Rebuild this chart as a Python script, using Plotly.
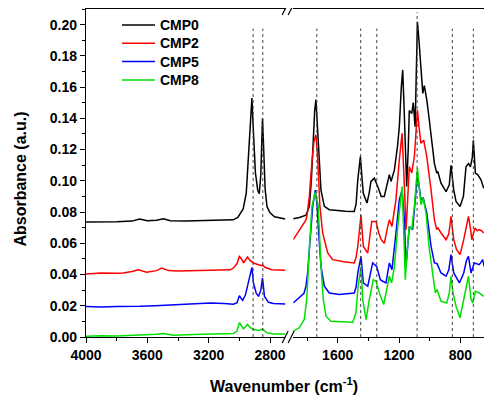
import plotly.graph_objects as go

# ---------------- data ----------------
cmp0_wn = [4000, 3900, 3800, 3700, 3650, 3600, 3540, 3495, 3450, 3350, 3200, 3100, 3040, 3010, 2995,
           2975, 2955, 2940, 2928, 2918, 2910, 2895, 2880, 2870, 2860, 2852, 2849, 2843, 2832, 2820,
           2800, 2770, 2734, 2700,
           1890, 1850, 1807, 1785, 1772, 1763, 1750, 1742, 1735, 1724, 1709, 1687, 1655, 1600, 1550,
           1492, 1480, 1469, 1452, 1440, 1433, 1409, 1395, 1383, 1361, 1339, 1316, 1296, 1275, 1263,
           1252, 1230, 1210, 1198, 1185, 1176, 1168, 1161, 1150, 1140, 1133, 1117, 1107, 1095, 1087,
           1080, 1070, 1061, 1045, 1035, 1019, 1005, 991, 969, 954, 947, 926, 893, 872, 861, 843, 828,
           802, 780, 763, 747, 734, 722, 715, 708, 702, 687, 665, 648, 645]
cmp0_abs = [0.0736, 0.0735, 0.0738, 0.0742, 0.0755, 0.0745, 0.0748, 0.0757, 0.0745, 0.0742, 0.0745,
            0.0748, 0.0750, 0.0765, 0.0790, 0.0820, 0.0920, 0.1150, 0.1400, 0.1530, 0.1350, 0.1050,
            0.0940, 0.0917, 0.1040, 0.1320, 0.1400, 0.1250, 0.0950, 0.0836, 0.0795, 0.0770, 0.0760,
            0.0755,
            0.0757, 0.0765, 0.0780, 0.0836, 0.1000, 0.1200, 0.1450, 0.1520, 0.1400, 0.1260, 0.0940,
            0.0836, 0.0815, 0.0810, 0.0805, 0.0804, 0.0850, 0.1006, 0.1155, 0.1000, 0.0920, 0.0858,
            0.0920, 0.0996, 0.1017, 0.0964, 0.0900, 0.0900, 0.0980, 0.1040, 0.0996, 0.1070, 0.1220,
            0.1347, 0.1600, 0.1710, 0.1500, 0.1240, 0.0964, 0.1200, 0.1450, 0.1430, 0.1500, 0.1347,
            0.1650, 0.2018, 0.1900, 0.1750, 0.1560, 0.1610, 0.1520, 0.1410, 0.1305, 0.1110, 0.1050,
            0.1060, 0.0985, 0.0930, 0.0975, 0.1100, 0.0940, 0.0868, 0.0836, 0.0900, 0.1090, 0.1110,
            0.1090, 0.1150, 0.1260, 0.1100, 0.1050, 0.1040, 0.1006, 0.0953, 0.0960]

cmp2_wn = [4000, 3900, 3800, 3758, 3700, 3659, 3604, 3540, 3506, 3463, 3400, 3300, 3200, 3100, 3060,
           3038, 3015, 3000, 2985, 2973, 2960, 2947, 2930, 2908, 2875, 2860, 2847, 2835, 2820, 2788,
           2700,
           1890, 1861, 1830, 1807, 1800, 1785, 1770, 1755, 1742, 1731, 1716, 1698, 1665, 1633, 1550,
           1492, 1480, 1469, 1448, 1440, 1433, 1404, 1390, 1378, 1350, 1332, 1316, 1296, 1275, 1263,
           1246, 1220, 1198, 1180, 1165, 1154, 1145, 1133, 1117, 1100, 1090, 1080, 1070, 1057, 1039,
           1019, 991, 969, 954, 947, 926, 893, 875, 861, 850, 843, 825, 802, 778, 760, 747, 735, 725,
           715, 704, 690, 676, 660, 648]
cmp2_abs = [0.0404, 0.0410, 0.0408, 0.0410, 0.0420, 0.0430, 0.0414, 0.0425, 0.0442, 0.0425, 0.0422,
            0.0425, 0.0428, 0.0430, 0.0430, 0.0442, 0.0470, 0.0516, 0.0500, 0.0474, 0.0490, 0.0512,
            0.0490, 0.0474, 0.0463, 0.0458, 0.0460, 0.0448, 0.0442, 0.0431, 0.0427,
            0.0623, 0.0666, 0.0710, 0.0750, 0.0780, 0.0900, 0.1100, 0.1250, 0.1295, 0.1155, 0.0836,
            0.0666, 0.0538, 0.0495, 0.0480, 0.0474, 0.0510, 0.0580, 0.0780, 0.0660, 0.0580, 0.0538,
            0.0650, 0.0740, 0.0740, 0.0666, 0.0623, 0.0600, 0.0700, 0.0750, 0.0708, 0.0879, 0.1134,
            0.1305, 0.0964, 0.0687, 0.0850, 0.1090, 0.1050, 0.1155, 0.1300, 0.1454, 0.1350, 0.1240,
            0.1260, 0.1155, 0.0940, 0.0750, 0.0687, 0.0700, 0.0666, 0.0623, 0.0660, 0.0772, 0.0680,
            0.0623, 0.0560, 0.0527, 0.0623, 0.0720, 0.0772, 0.0700, 0.0623, 0.0660, 0.0698, 0.0680,
            0.0687, 0.0680, 0.0666]

cmp5_wn = [4000, 3900, 3800, 3700, 3648, 3550, 3450, 3386, 3300, 3190, 3100, 3038, 3015, 3000, 2990,
           2978, 2960, 2941, 2925, 2918, 2908, 2890, 2875, 2860, 2849, 2842, 2836, 2810, 2778, 2700,
           1890, 1851, 1820, 1807, 1795, 1785, 1763, 1746, 1735, 1724, 1709, 1687, 1655, 1590, 1492,
           1480, 1469, 1448, 1440, 1433, 1404, 1390, 1372, 1346, 1322, 1306, 1285, 1263, 1246, 1220,
           1198, 1180, 1165, 1154, 1145, 1133, 1111, 1089, 1080, 1057, 1042, 1019, 991, 969, 952, 926,
           893, 875, 861, 843, 806, 778, 760, 747, 730, 709, 676, 654, 645]
cmp5_abs = [0.0195, 0.0192, 0.0196, 0.0195, 0.0197, 0.0200, 0.0205, 0.0208, 0.0212, 0.0218, 0.0215,
            0.0210, 0.0220, 0.0265, 0.0250, 0.0235, 0.0270, 0.0346, 0.0420, 0.0446, 0.0346, 0.0280,
            0.0260, 0.0300, 0.0378, 0.0320, 0.0260, 0.0222, 0.0214, 0.0212,
            0.0218, 0.0250, 0.0280, 0.0325, 0.0420, 0.0560, 0.0836, 0.0940, 0.0850, 0.0666, 0.0452,
            0.0325, 0.0282, 0.0272, 0.0282, 0.0320, 0.0410, 0.0516, 0.0400, 0.0346, 0.0325, 0.0400,
            0.0474, 0.0452, 0.0367, 0.0357, 0.0346, 0.0474, 0.0431, 0.0666, 0.0879, 0.0940, 0.0750,
            0.0450, 0.0580, 0.0708, 0.0687, 0.0964, 0.1040, 0.0879, 0.0890, 0.0794, 0.0580, 0.0474,
            0.0470, 0.0410, 0.0389, 0.0430, 0.0527, 0.0410, 0.0346, 0.0410, 0.0490, 0.0516, 0.0410,
            0.0474, 0.0463, 0.0495, 0.0452]

cmp8_wn = [4000, 3900, 3800, 3713, 3600, 3540, 3495, 3430, 3300, 3190, 3100, 3038, 3015, 3000, 2995,
           2973, 2960, 2947, 2930, 2908, 2869, 2851, 2820, 2778, 2700,
           1890, 1851, 1818, 1802, 1785, 1768, 1746, 1727, 1709, 1694, 1676, 1644, 1502, 1481, 1467,
           1448, 1437, 1415, 1394, 1368, 1350, 1328, 1300, 1274, 1263, 1248, 1230, 1208, 1180, 1169,
           1159, 1148, 1133, 1117, 1100, 1080, 1064, 1057, 1042, 1024, 1002, 980, 963, 952, 926, 889,
           872, 861, 848, 828, 802, 778, 747, 730, 719, 702, 676, 648]
cmp8_abs = [0.0005, 0.0008, 0.0006, 0.0010, 0.0012, 0.0018, 0.0022, 0.0012, 0.0016, 0.0020, 0.0020,
            0.0022, 0.0040, 0.0090, 0.0086, 0.0052, 0.0065, 0.0080, 0.0062, 0.0048, 0.0042, 0.0052,
            0.0027, 0.0020, 0.0020,
            0.0037, 0.0059, 0.0112, 0.0240, 0.0560, 0.0836, 0.0925, 0.0836, 0.0452, 0.0240, 0.0133,
            0.0101, 0.0095, 0.0155, 0.0325, 0.0452, 0.0240, 0.0112, 0.0240, 0.0367, 0.0357, 0.0282,
            0.0208, 0.0346, 0.0389, 0.0346, 0.0452, 0.0708, 0.0964, 0.0666, 0.0367, 0.0538, 0.0708,
            0.0687, 0.0836, 0.1080, 0.0900, 0.0847, 0.0890, 0.0794, 0.0560, 0.0389, 0.0282, 0.0304,
            0.0229, 0.0218, 0.0282, 0.0389, 0.0282, 0.0197, 0.0123, 0.0240, 0.0389, 0.0240, 0.0218,
            0.0293, 0.0282, 0.0260]

series_names = ["CMP0", "CMP2", "CMP5", "CMP8"]
series_colors = ["#000000", "#ff0000", "#0000ff", "#00e000"]

marker_wn_left = [2910, 2847]
marker_wn_right = [1736, 1450, 1345, 1082, 852, 715]
marker_top_right = [0.1975, 0.1975, 0.1975, 0.208, 0.1975, 0.1975]
marker_top_left = 0.1975

x_left_range = [4000, 2700]
x_right_range = [1890, 600]

# ---------------- figure ----------------
FONT = "Liberation Sans, Arial, sans-serif"
fig = go.Figure()

all_wn = [cmp0_wn, cmp2_wn, cmp5_wn, cmp8_wn]
all_ab = [cmp0_abs, cmp2_abs, cmp5_abs, cmp8_abs]
for name, col, wn, ab in zip(series_names, series_colors, all_wn, all_ab):
    lx = [w for w in wn if w > 2000]
    ly = [a for w, a in zip(wn, ab) if w > 2000]
    rx = [w for w in wn if w <= 2000]
    ry = [a for w, a in zip(wn, ab) if w <= 2000]
    fig.add_trace(go.Scatter(x=lx, y=ly, mode="lines", name=name, legendgroup=name,
                             showlegend=False, line=dict(color=col, width=1.5),
                             xaxis="x", yaxis="y"))
    fig.add_trace(go.Scatter(x=rx, y=ry, mode="lines", name=name, legendgroup=name,
                             showlegend=False, line=dict(color=col, width=1.5),
                             xaxis="x2", yaxis="y"))

dot_line = dict(color="#444444", width=1, dash="dot")
shapes = []
for w in marker_wn_left:
    shapes.append(dict(type="line", xref="x", yref="y", x0=w, x1=w, y0=0, y1=marker_top_left,
                       line=dot_line, layer="above"))
for w, t in zip(marker_wn_right, marker_top_right):
    shapes.append(dict(type="line", xref="x2", yref="y", x0=w, x1=w, y0=0, y1=t,
                       line=dot_line, layer="above"))

# right border of the frame
shapes.append(dict(type="line", xref="paper", yref="paper", x0=1, x1=1, y0=0, y1=1,
                   line=dict(color="black", width=1.3)))
# axis-break marks (//) at top and bottom
gap_c = 0.5016
for ya in [0, 1]:
    for dx in [-6, 0]:
        shapes.append(dict(type="line", xref="paper", yref="paper",
                           xsizemode="pixel", xanchor=gap_c, x0=dx - 1, x1=dx + 5,
                           ysizemode="pixel", yanchor=ya, y0=-6, y1=6,
                           line=dict(color="black", width=1.2)))

# legend (drawn as line samples + labels, spaced like the reference)
legend_rows_y = [0.9512, 0.8954, 0.8399, 0.7835]
annotations = []
for name, col, ly in zip(series_names, series_colors, legend_rows_y):
    shapes.append(dict(type="line", xref="paper", yref="paper", x0=0.0889, x1=0.1704,
                       y0=ly, y1=ly, line=dict(color=col, width=1.5)))
    annotations.append(dict(text=name, xref="paper", yref="paper", x=0.178, y=ly,
                            xanchor="left", yanchor="middle", showarrow=False,
                            font=dict(family=FONT, size=14, color="black", weight="bold")))

annotations += [
    dict(text="Absorbance (a.u.)", xref="paper", yref="paper", x=-0.1605, y=0.483,
         textangle=-90, showarrow=False, xanchor="center", yanchor="middle",
         font=dict(family=FONT, size=16, color="black", weight="bold")),
    dict(text="Wavenumber (cm<sup>-1</sup>)", xref="paper", yref="paper", x=0.488, y=-0.146,
         showarrow=False, xanchor="center", yanchor="middle",
         font=dict(family=FONT, size=16, color="black", weight="bold")),
]

tickfont = dict(family=FONT, size=14, color="black", weight="bold")
axis_common = dict(showline=True, linecolor="black", linewidth=1.3, mirror=True,
                   ticks="outside", ticklen=5, tickwidth=1.3, tickcolor="black",
                   showgrid=False, zeroline=False, tickfont=tickfont,
                   tick0=0, dtick=400,
                   minor=dict(dtick=200, ticks="outside", ticklen=3, tickwidth=1.3,
                              tickcolor="black", showgrid=False))

# the page body has an 8px margin: the figure starts at (8, 8) in the window
fig.update_layout(
    width=484, height=389,
    margin=dict(l=78, r=1, t=1, b=60),
    paper_bgcolor="white", plot_bgcolor="white",
    xaxis=dict(domain=[0, 0.4922], range=x_left_range, anchor="y", **axis_common),
    xaxis2=dict(domain=[0.5117, 1], range=x_right_range, anchor="y", **axis_common),
    yaxis=dict(range=[0, 0.21], anchor="x", showline=True, linecolor="black", linewidth=1.3,
               ticks="outside", ticklen=5, tickwidth=1.3, tickcolor="black",
               tick0=0, dtick=0.02, tickformat=".2f", showgrid=False, zeroline=False,
               tickfont=tickfont,
               minor=dict(dtick=0.01, ticks="outside", ticklen=3, tickwidth=1.3,
                          tickcolor="black", showgrid=False)),
    showlegend=False,
    shapes=shapes,
    annotations=annotations,
)

fig.write_html("out.html")
